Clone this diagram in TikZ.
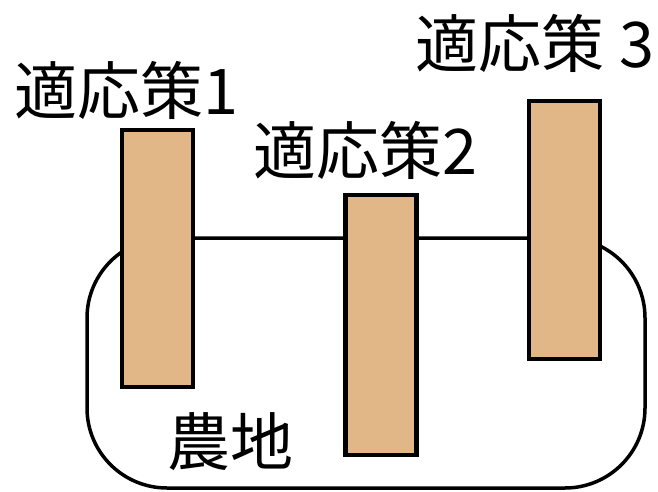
\documentclass[tikz,border=0pt]{standalone}
\usepackage{fontspec}
\newfontfamily\jpfont{Noto Sans CJK JP}
\begin{document}
\begin{tikzpicture}[x=1pt,y=-1pt,
  bar/.style={draw=black,line width=4.2pt,fill=barfill,inner sep=0pt,minimum width=71pt},
  lbl/.style={font=\jpfont\fontsize{63}{63}\selectfont,inner sep=0pt,anchor=center},
  field/.style={draw=black,line width=3.5pt,rounded corners=80pt,inner sep=0pt}]
\definecolor{barfill}{HTML}{E1B787}
\useasboundingbox (0,0) rectangle (658,492);
\node[field,minimum width=558pt,minimum height=250pt] (farm) at (366,363) {};
\node[bar,minimum height=257pt] (b1) at (157.5,258.5) {};
\node[bar,minimum height=260pt] (b2) at (381,325) {};
\node[bar,minimum height=258pt] (b3) at (564.5,230) {};
\node[lbl] (l1) at (126,90) {適応策1};
\node[lbl] (l2) at (365,150) {適応策2};
\node[lbl] (l3) at (535,43) {適応策 3};
\node[lbl] (lf) at (230,442) {農地};
\end{tikzpicture}
\end{document}
